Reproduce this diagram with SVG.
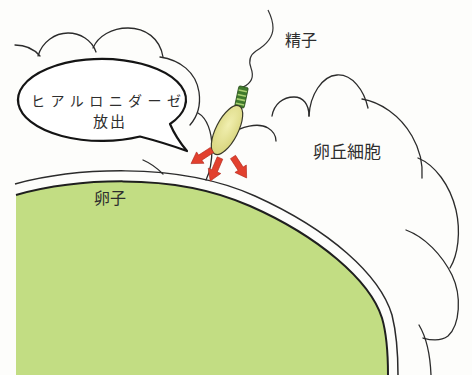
<svg xmlns="http://www.w3.org/2000/svg" width="472" height="375" viewBox="0 0 472 375">
  <style>
    .cloud { fill: none; stroke: #2b2b2b; stroke-width: 1.3; stroke-linecap: round; }
    .label { font-family: "Noto Sans CJK JP", "Noto Sans", sans-serif; fill: #2e2e2e; }
    .arrow { fill: #e2402e; stroke: #b32a1e; stroke-width: 0.6; }
  </style>
  <defs>
    <!-- outward arrow, pointing along +x from its tail at the origin -->
    <polygon id="arrowShape" points="0,-3 14,-3 14,-6.8 25,0 14,6.8 14,3 0,3"/>
    <radialGradient id="headFill" cx="0.45" cy="0.4" r="0.6">
      <stop offset="0" stop-color="#f1efb0"/>
      <stop offset="1" stop-color="#d9d67f"/>
    </radialGradient>
  </defs>

  <rect width="472" height="375" fill="#fdfdfb"/>

  <!-- ovum -->
  <g id="ovum">
    <path d="M16,195 C70,180 170,170 250,206 C318,236 370,280 382,318 C387,335 388,355 388,375 L16,375 Z"
          fill="#c2dd83" stroke="none"/>
    <path d="M16,195 C70,180 170,170 250,206 C318,236 370,280 382,318 C387,335 388,355 388,375"
          fill="none" stroke="#1f1f1f" stroke-width="2"/>
    <!-- zona pellucida -->
    <path d="M15,184 C70,169 175,160 255,196 C330,230 380,275 392,315 C397,335 398,355 398,375"
          fill="none" stroke="#2b2b2b" stroke-width="1.5"/>
    <text class="label" x="110" y="204" font-size="16" text-anchor="middle">卵子</text>
  </g>

  <!-- cumulus cells, left part behind the bubble -->
  <g id="cumulus-left">
    <path class="cloud" d="M15,45 C25,45 34,49 40,56"/>
    <path class="cloud" d="M38,56 C42,42 55,33 68,33 C80,33 92,40 96,52"/>
    <path class="cloud" d="M93,48 C98,36 112,28 128,28 C145,28 160,38 163,57"/>
    <path class="cloud" d="M160,57 C180,60 196,72 199,92 C201,106 197,117 190,125"/>
    <path class="cloud" d="M198,113 C207,118 212,132 212,148 C212,162 210,172 206,180"/>
    <path class="cloud" d="M143,160 C150,163 157,168 163,174"/>
  </g>

  <!-- cumulus cells, right part -->
  <g id="cumulus-right">
    <path class="cloud" d="M232,134 C240,127 258,122 268,128 C273,131 276,136 276,141"/>
    <path class="cloud" d="M272,116 C274,104 283,97 294,97 C303,97 309,104 309,116"/>
    <path class="cloud" d="M309,116 C310,95 322,76 337,75 C352,74 364,90 368,108"/>
    <path class="cloud" d="M362,99 C380,102 400,115 412,136 C420,150 423,165 422,178"/>
    <path class="cloud" d="M418,158 C435,165 450,185 456,210 C461,232 458,255 450,268"/>
    <path class="cloud" d="M406,230 C425,237 442,255 452,275 C462,296 460,325 448,336 C440,342 430,340 423,338"/>
    <path class="cloud" d="M419,325 C425,335 430,350 431,375"/>
    <text class="label" x="347" y="158" font-size="17" text-anchor="middle">卵丘細胞</text>
  </g>

  <!-- speech bubble -->
  <g id="bubble">
    <path d="M170,124 A84,41 0 1 0 140,136.5 Q165,143 187,151 Q176,138 170,124 Z"
          fill="#ffffff" stroke="#141414" stroke-width="2.2" stroke-linejoin="round"/>
    <text class="label" x="31" y="106" font-size="14" textLength="150" lengthAdjust="spacing">ヒアルロニダーゼ</text>
    <text class="label" x="110" y="127" font-size="15" text-anchor="middle" letter-spacing="2">放出</text>
  </g>

  <!-- sperm -->
  <g id="sperm">
    <path d="M243,87 C252,83 254,76 251,68 C248,60 250,55 256,51 C266,45 273,37 273,28 C273,20 270,14 268,10"
          fill="none" stroke="#333" stroke-width="1.2"/>
    <g transform="translate(241.5,97) rotate(12)">
      <rect x="-4.8" y="-10.5" width="9.6" height="21" rx="1.5" fill="#3f7a2c" stroke="#2a4f1c" stroke-width="0.8"/>
      <rect x="-4.2" y="-7" width="8.4" height="1.6" fill="#a9cf72"/>
      <rect x="-4.2" y="-2.5" width="8.4" height="1.6" fill="#a9cf72"/>
      <rect x="-4.2" y="2" width="8.4" height="1.6" fill="#a9cf72"/>
      <rect x="-4.2" y="6.5" width="8.4" height="1.6" fill="#a9cf72"/>
    </g>
    <ellipse cx="227" cy="130" rx="11" ry="27" transform="rotate(27 227 130)"
             fill="url(#headFill)" stroke="#3a3a2a" stroke-width="1.2"/>
  </g>

  <!-- enzyme release arrows -->
  <g id="arrows">
    <use href="#arrowShape" class="arrow" transform="translate(212,150) rotate(147)"/>
    <use href="#arrowShape" class="arrow" transform="translate(220,158) rotate(113)"/>
    <use href="#arrowShape" class="arrow" transform="translate(233,157) rotate(57)"/>
  </g>

  <text class="label" x="301" y="46" font-size="16" text-anchor="middle">精子</text>
</svg>
